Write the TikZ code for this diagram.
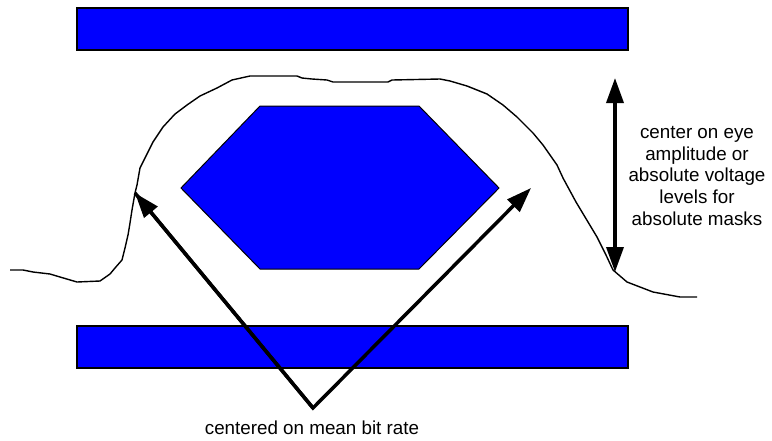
\documentclass[tikz,border=0pt]{standalone}
\usepackage{fontspec}
\setmainfont{Liberation Sans}
\usetikzlibrary{arrows.meta}
\definecolor{maskblue}{RGB}{0,0,255}
\begin{document}
\begin{tikzpicture}[
    x=1pt, y=-1pt,
    bar/.style={draw, line width=1.2pt, fill=maskblue, minimum width=551pt, minimum height=42pt, inner sep=0pt},
    mask/.style={draw, line width=1pt, fill=maskblue},
    wave/.style={line width=1.4pt, line join=round},
    arrow/.style={-{Triangle[length=25pt,width=17pt]}, line width=3.5pt},
    darrow/.style={{Triangle[length=25pt,width=17pt]}-{Triangle[length=25pt,width=17pt]}, line width=3.5pt},
    note/.style={align=center, inner sep=0pt, font=\fontsize{18.8}{21.7}\selectfont},
]
\useasboundingbox (0,0) rectangle (772,440);
\node[bar] (topbar) at (352.5,29) {};
\node[bar] (botbar) at (352.5,347) {};
\draw[mask] (181,188) -- (260,106) -- (419,106) -- (499,188) -- (419,269) -- (260,269) -- cycle;
\draw[wave] plot coordinates {(10,270) (23,270) (33,272) (50,274) (60,277) (77,282) (100,281) (110,274) (115,268) (122,260) (125,248) (128,235) (130,223) (132,210) (135,193) (137,185) (140,168) (143,162) (153,142) (163,127) (175,114) (187,105) (200,96) (217,88) (232,80) (250,76) (297,76) (302,78) (312,79) (327,80) (333,82) (388,82) (392,80) (440,79) (450,81) (467,86) (487,94) (503,105) (517,117) (533,133) (543,145) (557,165) (563,178) (576,202) (588,222) (597,237) (606,255) (613,270) (627,282) (653,292) (680,297) (697,297)};
\coordinate (apex) at (313,408);
\coordinate (risetip) at (135,193);
\coordinate (falltip) at (531,188);
\coordinate (ampltop) at (615,78);
\coordinate (amplbot) at (615,272);
\draw[arrow, line join=miter] (risetip) -- (apex) -- (falltip);
\draw[arrow] (apex) -- (risetip);
\draw[darrow] (ampltop) -- (amplbot);
\node[note] (ampnote) at (697,176) {center on eye\\amplitude or\\absolute voltage\\levels for\\absolute masks};
\node[note] (ratenote) at (312,428) {centered on mean bit rate};
\end{tikzpicture}
\end{document}
